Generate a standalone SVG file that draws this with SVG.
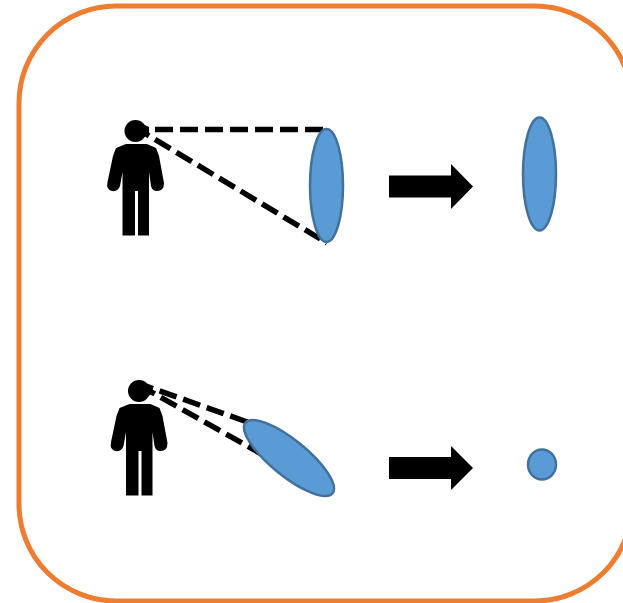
<svg xmlns="http://www.w3.org/2000/svg" width="623" height="603" viewBox="0 0 623 603">
<style>
.lens{fill:#5b9bd5;stroke:#41719c;stroke-width:2.5}
.sight{fill:none;stroke:#000;stroke-width:5.500;stroke-dasharray:18 7}
.arrow{fill:#000}
.frame{fill:none;stroke:#ed7d31;stroke-width:5}
</style>
<defs>
<g id="person">
<circle cx="135.500" cy="131" r="11"/>
<path d="M136 121L149 127V133L144 137Z"/>
<path d="M126 144H147L156 148L159 156L164 183Q164 191 157 191Q152 191 151 186L149 172V235.500H138V191H135V235.500H122.500V172L120 186Q118 192 112 191Q106 190 107.500 182L113 156L116 148Z"/>
</g>
</defs>
<rect id="frame" class="frame" x="19" y="6" width="613" height="595" rx="97" ry="97"/>
<g id="connectors">
<path class="sight" d="M130 129.500H323"/>
<path class="sight" stroke-dashoffset="14.500" d="M146 134L327 243"/>
<path class="sight" stroke-dashoffset="10.600" d="M146 386L250 423"/>
<path class="sight" stroke-dashoffset="8" d="M146 389L265 456"/>
</g>
<g id="person-top"><use href="#person"/></g>
<g id="person-bottom"><use href="#person" transform="translate(3.500 260)"/></g>
<g id="lens-top"><ellipse class="lens" cx="326.500" cy="185.500" rx="16.500" ry="56.500"/></g>
<g id="arrow-top"><path class="arrow" d="M389 175.500H451V164L473 186.500L451 209V197.500H389Z"/></g>
<g id="image-top"><ellipse class="lens" cx="539.500" cy="174" rx="16.500" ry="56.500"/></g>
<g id="lens-bottom"><ellipse class="lens" cx="289" cy="458" rx="56" ry="18" transform="rotate(39 289 458)"/></g>
<g id="arrow-bottom"><path class="arrow" d="M389 457H451V446L473 468L451 490V479H389Z"/></g>
<g id="image-bottom"><ellipse class="lens" cx="542" cy="464.500" rx="14" ry="15"/></g>
</svg>
